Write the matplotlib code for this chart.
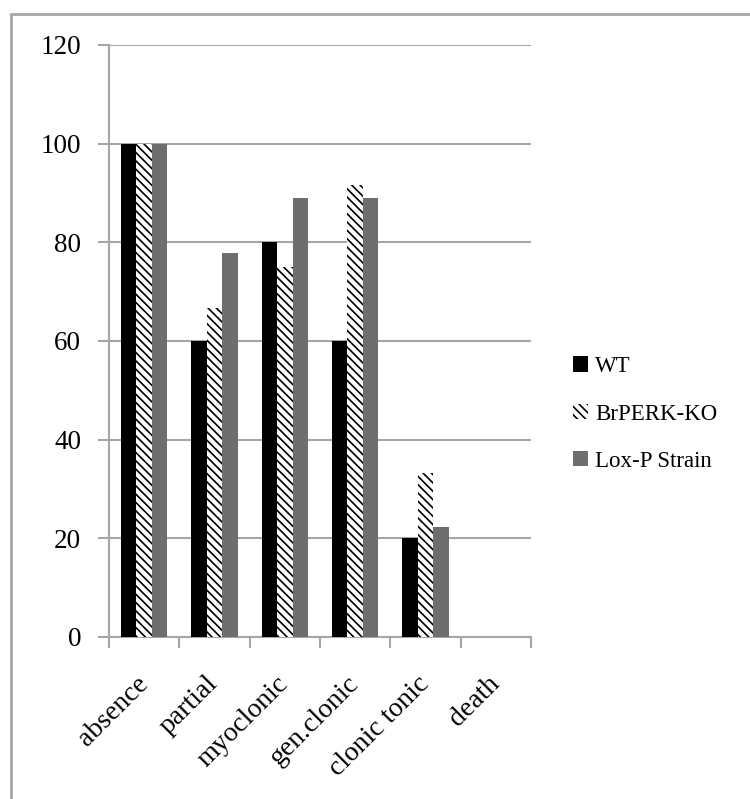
import numpy as np
import matplotlib.pyplot as plt
from matplotlib.patches import Rectangle

categories = ["absence", "partial", "myoclonic", "gen.clonic", "clonic tonic", "death"]
wt = [100, 60, 80, 60, 20, 0]
brperk_ko = [100, 66.7, 75, 91.7, 33.3, 0]
loxp = [100, 77.8, 88.9, 88.9, 22.2, 0]
series_names = ["WT", "BrPERK-KO", "Lox-P Strain"]
yticks = [0, 20, 40, 60, 80, 100, 120]

plt.rcParams['font.family'] = ['Liberation Serif', 'DejaVu Serif']
plt.rcParams['hatch.linewidth'] = 1.2
plt.rcParams['hatch.color'] = 'black'

axis_grey = '#a6a6a6'

fig = plt.figure(figsize=(7.5, 7.99), dpi=100)
# outer chart frame (only top and left visible)
fig.patches.append(Rectangle((11 / 750, -0.1), 1.2, 1 - 14 / 799 + 0.1,
                             transform=fig.transFigure, fill=False,
                             edgecolor=axis_grey, linewidth=2))

ax = fig.add_axes([109 / 750, 1 - 637 / 799, (531 - 109) / 750, (637 - 45) / 799])

x = np.arange(len(categories))
w = 0.22
ax.bar(x - w, wt, w, color='black', label=series_names[0], zorder=3)
ax.bar(x, brperk_ko, w, color='white', hatch='\\\\\\\\', edgecolor='black', linewidth=0,
       label=series_names[1], zorder=3)
ax.bar(x + w, loxp, w, color='#6e6e6e', label=series_names[2], zorder=3)

ax.set_xlim(-0.5, len(categories) - 0.5)
ax.set_ylim(0, 120)
ax.set_yticks(yticks)
ax.yaxis.grid(True, color=axis_grey, linewidth=1.5, zorder=0)

ax.set_xticks(np.arange(len(categories) + 1) - 0.5, minor=False)
ax.set_xticklabels([])
ax.set_xticks(x, minor=True)
ax.set_xticklabels(categories, minor=True, rotation=45, ha='right', va='center',
                   rotation_mode='anchor', fontsize=20)
ax.tick_params(axis='x', which='minor', length=0, pad=31)
ax.tick_params(axis='x', which='major', length=8, width=1.5, color=axis_grey)
ax.tick_params(axis='y', length=8, width=1.5, color=axis_grey, labelsize=19.5, pad=12)

for side in ['top', 'right']:
    ax.spines[side].set_visible(False)
for side in ['left', 'bottom']:
    ax.spines[side].set_color(axis_grey)
    ax.spines[side].set_linewidth(1.5)

ax.legend(loc='center left', bbox_to_anchor=(562 / 750, 1 - 414 / 799),
          bbox_transform=fig.transFigure, frameon=False, fontsize=16.5,
          handlelength=0.65, handleheight=0.65, handletextpad=0.3, labelspacing=1.15,
          borderpad=0)

fig.savefig('out.png', dpi=100)
